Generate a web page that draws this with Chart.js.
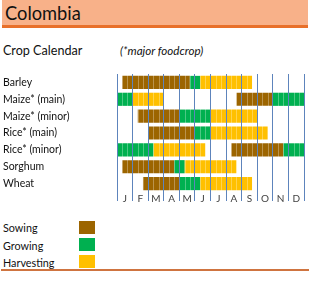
<!DOCTYPE html>
<html>
<head>
<meta charset="utf-8">
<script src="https://cdn.jsdelivr.net/npm/chart.js@4/dist/chart.umd.min.js"></script>
<style>
  body { margin: 0; background: #fff; font-family: Lato, "Liberation Sans", sans-serif; color: #111; }
  #page { position: relative; width: 310px; height: 289px; overflow: hidden; }
  .abs { position: absolute; white-space: nowrap; }
  #band { left: 2px; top: 0; width: 306px; height: 25px; background: #F8B189; }
  #bandLine { left: 2px; top: 25px; width: 306px; height: 3px; background: #E8702A; }
  #title { left: 5px; top: 1px; font-size: 18.3px; line-height: 24px; }
  #sub1 { left: 3px; top: 42px; font-size: 12.6px; line-height: 17px; }
  #sub2 { left: 120px; top: 42px; font-size: 11.6px; line-height: 17px; font-style: italic; }
  .leg { left: 3px; font-size: 10.8px; line-height: 14px; }
  .sw { left: 79px; width: 16px; height: 13px; }
  #bottomLine { left: 1px; top: 269px; width: 308px; height: 2px; background: #CF7440; }
  #wrap { left: 0; top: 64px; width: 310px; height: 145px; }
</style>
</head>
<body>
<div id="page">
  <div class="abs" id="band"></div>
  <div class="abs" id="bandLine"></div>
  <div class="abs" id="title">Colombia</div>
  <div class="abs" id="sub1">Crop Calendar</div>
  <div class="abs" id="sub2">(*major foodcrop)</div>
  <div class="abs" id="wrap"><canvas id="chart" width="310" height="145"></canvas></div>
  <div class="abs leg" style="top:221px">Sowing</div>
  <div class="abs leg" style="top:239px">Growing</div>
  <div class="abs leg" style="top:256px">Harvesting</div>
  <div class="abs sw" style="top:221px;background:#9C6500"></div>
  <div class="abs sw" style="top:238px;background:#00B050"></div>
  <div class="abs sw" style="top:255px;background:#FFC000"></div>
  <div class="abs" id="bottomLine"></div>
</div>
<script>
// crop calendar, values in dekads (3 per month, 0 = start of Jan, 36 = end of Dec)
const crops = ["Barley", "Maize* (main)", "Maize* (minor)", "Rice* (main)", "Rice* (minor)", "Sorghum", "Wheat"];
const months = ["J", "F", "M", "A", "M", "J", "J", "A", "S", "O", "N", "D"];

const sowing = [[1, 14], [23, 30], [4, 12], [6, 15], [22, 32], [1, 11], [5, 12]];
const growing = [[14, 16], [0, 3], [12, 18], [15, 18], [0, 7], [11, 13], [12, 16]];
const growingLate = [null, [30, 36], null, null, [32, 36], null, null];
const harvesting = [[16, 26], [3, 9], [18, 27], [18, 29], [7, 17], [13, 23], [16, 26]];

const colors = { sowing: "#9C6500", growing: "#00B050", harvesting: "#FFC000" };
const gridBlue = "#5D84BC";

function barSet(label, data, color) {
  return {
    label,
    data,
    backgroundColor: color,
    borderWidth: 0,
    grouped: false,
    barPercentage: 0.78,
    categoryPercentage: 1,
  };
}

// light dekad separators inside the bars
const dekadLines = {
  id: "dekadLines",
  afterDatasetsDraw(chart) {
    const { ctx, chartArea, scales } = chart;
    ctx.save();
    ctx.strokeStyle = "rgba(255,255,255,0.3)";
    ctx.lineWidth = 1;
    for (let d = 1; d < 36; d++) {
      if (d % 3 === 0) continue;
      const x = Math.round(scales.x.getPixelForValue(d)) + 0.5;
      ctx.beginPath();
      ctx.moveTo(x, chartArea.top);
      ctx.lineTo(x, chartArea.bottom);
      ctx.stroke();
    }
    ctx.restore();
  },
};

const monthLine = (c) => (c.tick && c.tick.value % 3 === 0 ? gridBlue : "rgba(0,0,0,0)");

new Chart(document.getElementById("chart"), {
  type: "bar",
  data: {
    labels: crops,
    datasets: [
      barSet("Sowing", sowing, colors.sowing),
      barSet("Growing", growing, colors.growing),
      barSet("Growing", growingLate, colors.growing),
      barSet("Harvesting", harvesting, colors.harvesting),
    ],
  },
  options: {
    indexAxis: "y",
    responsive: false,
    animation: false,
    layout: { padding: { left: 3, right: 6, top: 10, bottom: 0 } },
    plugins: { legend: { display: false }, tooltip: { enabled: false } },
    scales: {
      x: {
        type: "linear",
        min: 0,
        max: 36,
        afterBuildTicks(scale) {
          const ticks = [];
          for (let v = 0; v <= 36; v += 1.5) ticks.push({ value: v });
          scale.ticks = ticks;
        },
        afterFit(scale) { scale.height = 17; },
        border: { display: false },
        grid: {
          z: 1,
          color: monthLine,
          tickColor: monthLine,
          tickLength: 9,
          lineWidth: 1,
        },
        ticks: {
          autoSkip: false,
          maxRotation: 0,
          padding: -8,
          color: "#404040",
          font: { family: "Lato", size: 10 },
          callback: (v) => (v % 3 === 1.5 ? months[Math.floor(v / 3)] : ""),
        },
      },
      y: {
        afterFit(scale) { scale.width = 114; },
        border: { display: false },
        grid: { display: false },
        ticks: {
          crossAlign: "far",
          padding: 0,
          color: "#111",
          font: { family: "Lato", size: 10.5 },
        },
      },
    },
  },
  plugins: [dekadLines],
});
</script>
</body>
</html>
